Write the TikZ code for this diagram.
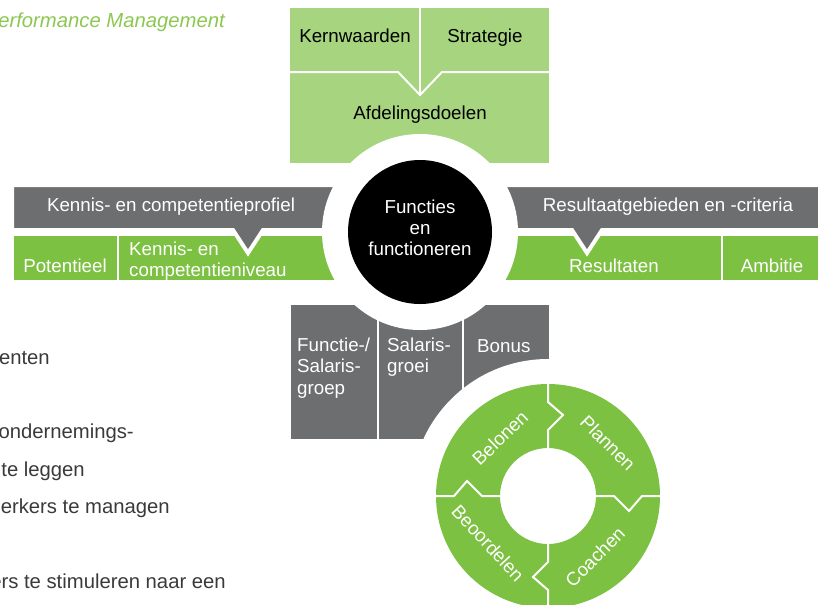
\documentclass[tikz,border=0pt]{standalone}
\usepackage{fontspec}
\setmainfont{Liberation Sans}
\usepackage{tikz}

\definecolor{lightgrn}{HTML}{A6D47F}
\definecolor{grn}{HTML}{7CC142}
\definecolor{darkgry}{HTML}{6D6E70}
\definecolor{titlegrn}{HTML}{8CC850}
\definecolor{bodytxt}{HTML}{3A3A3A}

\begin{document}
\begin{tikzpicture}[x=0.03cm,y=-0.03cm,
  lbl/.style={font=\fontsize{16}{18}\selectfont,inner sep=0pt},
  white lbl/.style={lbl,text=white},
  black lbl/.style={lbl,text=black},
  body lbl/.style={lbl,font=\fontsize{17.3}{20}\selectfont,text=bodytxt,anchor=base east},
  gray bar/.style={fill=darkgry,draw=white,line width=0.12cm},
  cut/.style={draw=white,line width=0.06cm}]

  \useasboundingbox (0,0) rectangle (818,604);

  % top block
  \fill[lightgrn] (290,8) rectangle (549,163);
  \draw[cut] (420,8) -- (420,95);
  \draw[cut] (290,72) -- (398,72) -- (420,95) -- (442,72) -- (549,72);
  \node[black lbl,anchor=base] (kw) at (355,42) {Kernwaarden};
  \node[black lbl,anchor=base] (st) at (485,42) {Strategie};
  \node[black lbl,anchor=base] (ad) at (420,119) {Afdelingsdoelen};

  % side bars
  \fill[grn] (14,236) rectangle (818,280);
  \draw[cut] (118,236) -- (118,280);
  \draw[cut] (722,236) -- (722,280);
  \draw[gray bar] (12,185) -- (420,185) -- (420,230) -- (263,230) -- (248,253)
    -- (233,230) -- (12,230) -- cycle;
  \draw[gray bar] (420,185) -- (822,185) -- (822,230) -- (602,230) -- (587,253)
    -- (572,230) -- (420,230) -- cycle;

  % bottom block
  \fill[darkgry] (291,305) rectangle (549,439);
  \draw[cut] (378,305) -- (378,439);
  \draw[cut] (463,305) -- (463,439);

  % centre
  \fill[white] (420,232) circle (98);
  \fill[black] (420,232) circle (72);

  % cycle
  \fill[white] (548,496) circle (137);
  \fill[grn,even odd rule] (548,496) circle (112) (548,496) circle (48);
  \foreach \a in {0,-90,-180,-270}
    \draw[cut,shift={(548,496)},rotate=\a]
      (0,-114) -- (0,-94) -- (15,-81) -- (0,-66) -- (0,-46);

  \node[white lbl,align=center] (fn) at (420,228) {Functies\\en\\functioneren};

  \node[white lbl,anchor=base] (kp) at (171,211) {Kennis- en competentieprofiel};
  \node[white lbl,anchor=base] (pt) at (65,272) {Potentieel};
  \node[white lbl,anchor=north west,align=left] (kn) at (129,242) {Kennis- en\\competentieniveau};
  \node[white lbl,anchor=base] (rc) at (668,211) {Resultaatgebieden en -criteria};
  \node[white lbl,anchor=base] (rs) at (614,272) {Resultaten};
  \node[white lbl,anchor=base] (am) at (772,272) {Ambitie};

  \node[white lbl,anchor=north west,align=left] (fs) at (297,338) {Functie-/\\Salaris-\\groep};
  \node[white lbl,anchor=north west,align=left] (sg) at (387,338) {Salaris-\\groei};
  \node[white lbl,anchor=north west] (bn) at (477,339) {Bonus};

  \node[white lbl,rotate=-45] (pl) at (608,443) {Plannen};
  \node[white lbl,rotate=45] (co) at (595,557) {Coachen};
  \node[white lbl,rotate=-47] (bo) at (488,543) {Beoordelen};
  \node[white lbl,rotate=44] (be) at (500,438) {Belonen};

  % cut-off page text
  \node[body lbl,font=\fontsize{17.3}{20}\selectfont\itshape,text=titlegrn] (ti) at (225,27) {erformance Management};
  \node[body lbl] (t1) at (50,364) {enten};
  \node[body lbl] (t2) at (134,438) {ondernemings-};
  \node[body lbl] (t3) at (85,476) {te leggen};
  \node[body lbl] (t4) at (170,513) {erkers te managen};
  \node[body lbl] (t5) at (226,588) {ers te stimuleren naar een};
\end{tikzpicture}
\end{document}
